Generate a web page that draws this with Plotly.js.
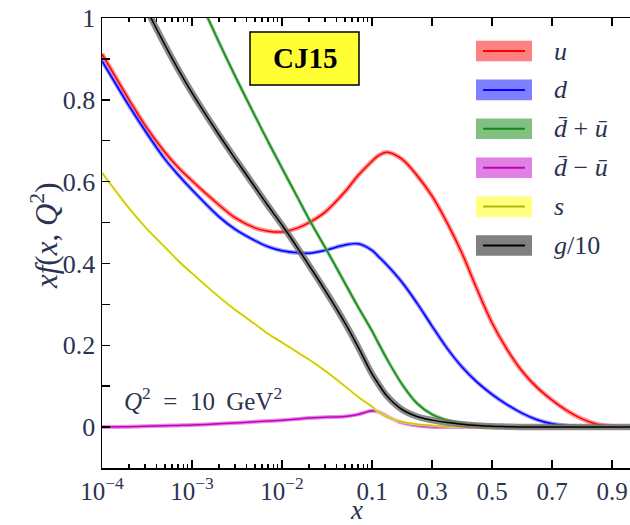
<!DOCTYPE html>
<html>
<head>
<meta charset="utf-8">
<script src="https://cdn.plot.ly/plotly-3.0.1.min.js"></script>
<style>html,body{margin:0;padding:0;background:#fff;}#chart{width:630px;height:525px;}</style>
</head>
<body>
<div id="chart"></div>
<script>
// x grid (momentum fraction)
const X = [1e-4, 2e-4, 3e-4, 5e-4, 7e-4, 1e-3, 2e-3, 3e-3, 5e-3, 7e-3, 1e-2, 1.5e-2, 2e-2, 3e-2, 5e-2, 7e-2,
           0.1, 0.12, 0.15, 0.2, 0.25, 0.3, 0.35, 0.4, 0.45, 0.5, 0.55, 0.6, 0.65, 0.7, 0.75, 0.8, 0.85, 0.9, 0.96];
const U = [0.912, 0.80, 0.738, 0.672, 0.635, 0.602, 0.543, 0.512, 0.487, 0.479, 0.477, 0.487, 0.50, 0.525, 0.575, 0.615,
           0.65, 0.663, 0.672, 0.655, 0.615, 0.565, 0.50, 0.425, 0.337, 0.255, 0.19, 0.137, 0.097, 0.066, 0.04, 0.02, 0.007, 0.002, 0.0];
const D = [0.895, 0.785, 0.725, 0.655, 0.617, 0.58, 0.514, 0.484, 0.456, 0.441, 0.431, 0.426, 0.425, 0.432, 0.445, 0.448,
           0.432, 0.418, 0.396, 0.354, 0.303, 0.247, 0.193, 0.147, 0.11, 0.08, 0.055, 0.034, 0.018, 0.008, 0.003, 0.001, 0.0, 0.0, 0.0];
const DBPUB = [1.6, 1.44, 1.35, 1.24, 1.16, 1.085, 0.94, 0.859, 0.761, 0.698, 0.633, 0.56, 0.508, 0.44, 0.352, 0.294,
           0.235, 0.207, 0.166, 0.105, 0.058, 0.031, 0.017, 0.009, 0.005, 0.002, 0.001, 0.0, 0.0, 0.0, 0.0, 0.0, 0.0, 0.0, 0.0];
const DBMUB = [0.0, 0.001, 0.002, 0.003, 0.004, 0.005, 0.008, 0.01, 0.013, 0.015, 0.017, 0.02, 0.022, 0.024, 0.026, 0.031,
           0.04, 0.038, 0.026, 0.011, 0.004, 0.001, 0.0, 0.0, 0.0, 0.0, 0.0, 0.0, 0.0, 0.0, 0.0, 0.0, 0.0, 0.0, 0.0];
const S = [0.622, 0.535, 0.49, 0.44, 0.407, 0.376, 0.318, 0.287, 0.252, 0.228, 0.207, 0.182, 0.165, 0.138, 0.10, 0.074,
           0.05, 0.038, 0.025, 0.013, 0.007, 0.004, 0.002, 0.001, 0.0, 0.0, 0.0, 0.0, 0.0, 0.0, 0.0, 0.0, 0.0, 0.0, 0.0];
const G10 = [1.264, 1.112, 1.03, 0.934, 0.875, 0.817, 0.714, 0.657, 0.587, 0.541, 0.494, 0.437, 0.395, 0.335, 0.255, 0.196,
           0.13, 0.107, 0.076, 0.043, 0.026, 0.017, 0.011, 0.007, 0.004, 0.002, 0.001, 0.0, 0.0, 0.0, 0.0, 0.0, 0.0, 0.0, 0.0];

const seriesNames = ['u', 'd', 'd\u0304+u\u0304', 'd\u0304\u2212u\u0304', 's', 'g/10'];
const legendLabels = ['<i>u</i>', '<i>d</i>', '<i>d\u0304</i> + <i>u\u0304</i>', '<i>d\u0304</i> \u2212 <i>u\u0304</i>', '<i>s</i>', '<i>g</i>/10'];
const xTickValsReal = [1e-4, 1e-3, 1e-2, 0.1, 0.3, 0.5, 0.7, 0.9];
const xTickText = ['10<sup>\u22124</sup>', '10<sup>\u22123</sup>', '10<sup>\u22122</sup>', '0.1', '0.3', '0.5', '0.7', '0.9'];
const yTickVals = [0, 0.2, 0.4, 0.6, 0.8, 1];
const yTickText = ['0', '0.2', '0.4', '0.6', '0.8', '1'];

// log scale below 0.1, linear above (one "decade" width = 0.3 in x)
function tx(x) { return x <= 0.1 ? Math.log10(x) : -1 + (x - 0.1) / 0.3; }

const lineColors = ['#ff0000', '#0000ff', '#138a13', '#c000c0', '#c4c41a', '#000000'];
const bandColors = ['rgba(255,110,110,0.75)', 'rgba(110,110,255,0.75)', 'rgba(110,180,110,0.75)',
                    'rgba(220,110,220,0.8)', 'rgba(255,255,110,0.8)', 'rgba(110,110,110,0.8)'];
const swatchColors = ['#ff8080', '#8080ff', '#80c080', '#e080e0', '#ffff80', '#808080'];
const swatchLines = ['#ff0000', '#0000ff', '#138a13', '#c000c0', '#b8b800', '#000000'];
const bandWidths = [4.5, 4, 3.5, 4, 3, 6.5];
const allY = [U, D, DBPUB, DBMUB, S, G10];

const T = X.map(tx);
const traces = [];
allY.forEach((ys, i) => {
  traces.push({x: T, y: ys, mode: 'lines', name: seriesNames[i] + ' band', hoverinfo: 'skip',
    line: {color: bandColors[i], width: bandWidths[i], shape: 'spline', smoothing: 1}});
  traces.push({x: T, y: ys, mode: 'lines', name: seriesNames[i],
    line: {color: lineColors[i], width: 1.5, shape: 'spline', smoothing: 1}});
});

// pixel -> paper helpers for decorations
const L = 102, R = 0, TOP = 18, B = 57, W = 630, H = 525;
const pw = W - L - R, ph = H - TOP - B;
const px = p => (p - L) / pw;
const py = p => (H - B - p) / ph;

const txtColor = '#2a3350';
const serif = 'Liberation Serif';

const shapes = [];
const annotations = [];
// legend
legendLabels.forEach((lab, i) => {
  const cy = 51 + 38.9 * i;
  shapes.push({type: 'rect', xref: 'paper', yref: 'paper', x0: px(476), x1: px(532), y0: py(cy + 10.3), y1: py(cy - 10.3),
    fillcolor: swatchColors[i], line: {width: 0}, layer: 'above'});
  shapes.push({type: 'line', xref: 'paper', yref: 'paper', x0: px(483), x1: px(525), y0: py(cy), y1: py(cy),
    line: {color: swatchLines[i], width: 2}, layer: 'above'});
  annotations.push({xref: 'paper', yref: 'paper', x: px(552), y: py(cy), xanchor: 'left', yanchor: 'middle',
    text: lab, showarrow: false, font: {family: serif, size: 26, color: txtColor}});
});
// CJ15 box
shapes.push({type: 'rect', xref: 'paper', yref: 'paper', x0: px(250), x1: px(359), y0: py(85), y1: py(32),
  fillcolor: '#ffff33', line: {color: '#000', width: 1.5}, layer: 'above'});
annotations.push({xref: 'paper', yref: 'paper', x: px(304.5), y: py(58), xanchor: 'center', yanchor: 'middle',
  text: '<b>CJ15</b>', showarrow: false, font: {family: serif, size: 29, color: '#000'}});
// Q^2 label
annotations.push({xref: 'paper', yref: 'paper', x: px(122), y: py(399), xanchor: 'left', yanchor: 'middle',
  text: '<i>Q</i><sup>2</sup>\u2002=\u200210\u2009 GeV<sup>2</sup>', showarrow: false, font: {family: serif, size: 25, color: txtColor}});
// axis titles
annotations.push({xref: 'paper', yref: 'paper', x: px(44), y: py(236), xanchor: 'center', yanchor: 'middle', textangle: -90,
  text: '<i>xf</i>(<i>x</i>, <i>Q</i><sup>2</sup>)', showarrow: false, font: {family: serif, size: 31, color: txtColor}});
annotations.push({xref: 'paper', yref: 'paper', x: px(356), y: py(510), xanchor: 'center', yanchor: 'middle',
  text: '<i>x</i>', showarrow: false, font: {family: serif, size: 27, color: txtColor}});

const minorX = [];
[-4, -3, -2].forEach(d => { for (let k = 2; k <= 9; k++) minorX.push(Math.log10(k) + d); });

const layout = {
  width: W, height: H,
  margin: {l: L, r: R, t: TOP, b: B, pad: 0},
  paper_bgcolor: '#fff', plot_bgcolor: '#fff',
  showlegend: false,
  font: {family: serif, color: txtColor},
  xaxis: {
    range: [-4, -4 + pw / 90], tickmode: 'array', tickvals: xTickValsReal.map(tx), ticktext: xTickText,
    ticks: 'inside', ticklen: 8, tickwidth: 1.5, tickcolor: '#000',
    showline: true, linecolor: '#000', linewidth: 1.5, mirror: 'allticks',
    showgrid: false, zeroline: false,
    tickfont: {family: serif, size: 25, color: txtColor},
    minor: {tickmode: 'array', tickvals: minorX, ticks: 'inside', ticklen: 4, tickwidth: 1.2, tickcolor: '#000', showgrid: false}
  },
  yaxis: {
    range: [-0.1, 1.0], tickmode: 'array', tickvals: yTickVals, ticktext: yTickText,
    ticks: 'inside', ticklen: 8, tickwidth: 1.5, tickcolor: '#000',
    showline: true, linecolor: '#000', linewidth: 1.5, mirror: false,
    showgrid: false, zeroline: false,
    tickfont: {family: serif, size: 26, color: txtColor},
    minor: {dtick: 0.1, tick0: 0, ticks: 'inside', ticklen: 8, tickwidth: 1.5, tickcolor: '#000', showgrid: false}
  },
  shapes: shapes,
  annotations: annotations
};

Plotly.newPlot('chart', traces, layout, {displayModeBar: false, staticPlot: true});
</script>
</body>
</html>
